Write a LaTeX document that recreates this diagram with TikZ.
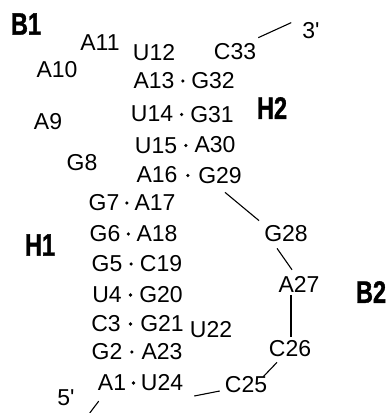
\documentclass[tikz,border=0pt]{standalone}
\usepackage{fontspec}
\setmainfont{Liberation Sans}
\newfontfamily\helixfont[FakeStretch=0.76,FakeBold=1.2]{Liberation Sans Bold}
\usetikzlibrary{calc}

\tikzset{
    base/.style={font=\fontsize{23}{23}\selectfont, inner sep=1pt},
    region/.style={font=\helixfont\fontsize{31}{31}\selectfont, inner sep=0pt},
    bond/.style={line width=1.1pt}
}

\begin{document}
\begin{tikzpicture}[x=1pt, y=-1pt]
        \useasboundingbox (0,0) rectangle (387,413);
        % region labels
        \node[region] (b1) at (26,24) {B1};
        \node[region] (h2) at (272,108) {H2};
        \node[region] (h1) at (40,245) {H1};
        \node[region] (b2) at (371,292) {B2};
        % loop B1
        \node[base] (a11) at (100,43) {A11};
        \node[base] (u12) at (154,53) {U12};
        \node[base] (a10) at (57,70) {A10};
        \node[base] (a9) at (48,122) {A9};
        \node[base] (g8) at (82,163) {G8};
        % helix H2
        \node[base] (c33) at (235,52) {C33};
        \node[base] (p3) at (311,31) {3\textquotesingle};
        \node[base] (a13) at (154,81) {A13};
        \node[base] (g32) at (213,81) {G32};
        \node[base] (u14) at (152,114) {U14};
        \node[base] (g31) at (212,115) {G31};
        \node[base] (u15) at (156,146) {U15};
        \node[base] (a30) at (215,145) {A30};
        \node[base] (a16) at (157,175) {A16};
        \node[base] (g29) at (220,176) {G29};
        % helix H1
        \node[base] (g7) at (104,203) {G7};
        \node[base] (a17) at (155,203) {A17};
        \node[base] (g6) at (105,234) {G6};
        \node[base] (a18) at (157,234) {A18};
        \node[base] (g5) at (107,264) {G5};
        \node[base] (c19) at (161,264) {C19};
        \node[base] (u4) at (107,295) {U4};
        \node[base] (g20) at (161,295) {G20};
        \node[base] (c3) at (106,324) {C3};
        \node[base] (g21) at (162,324) {G21};
        \node[base] (u22) at (211,330) {U22};
        \node[base] (g2) at (107,352) {G2};
        \node[base] (a23) at (162,352) {A23};
        \node[base] (a1) at (112,383) {A1};
        \node[base] (u24) at (162,383) {U24};
        \node[base] (p5) at (66,398) {5\textquotesingle};
        % loop B2
        \node[base] (g28) at (286,234) {G28};
        \node[base] (a27) at (299,284) {A27};
        \node[base] (c26) at (290,349) {C26};
        \node[base] (c25) at (246,385) {C25};

        \foreach \l/\r in {a13/g32, u14/g31, u15/a30, a16/g29, g7/a17, g6/a18,
                           g5/c19, u4/g20, c3/g21, g2/a23, a1/u24}
            \fill ($(\l.east)!.5!(\r.west)$) circle (1.8pt);

        \draw[bond] ([shift={(1,-5)}]c33.north east) -- ([shift={(-10,1)}]p3.north west);
        \draw[bond] ([shift={(5,7)}]g29.south) -- ([shift={(-4,-4)}]g28.north west);
        \draw[bond] ([shift={(-9,5)}]g28.south) -- ([shift={(-7,-5)}]a27.north);
        \draw[bond] ([shift={(-8,2)}]a27.south) -- ([shift={(1,-3)}]c26.north);
        \draw[bond] ([shift={(-13,4)}]c26.south) -- ([shift={(-5,1)}]c25.north east);
        \draw[bond] ([shift={(10,13)}]u24.east) -- ([shift={(-4,6)}]c25.west);
        \draw[bond] ([shift={(2,9)}]a1.south west) -- ([shift={(14,15)}]p5.east);
    \end{tikzpicture}
\end{document}
